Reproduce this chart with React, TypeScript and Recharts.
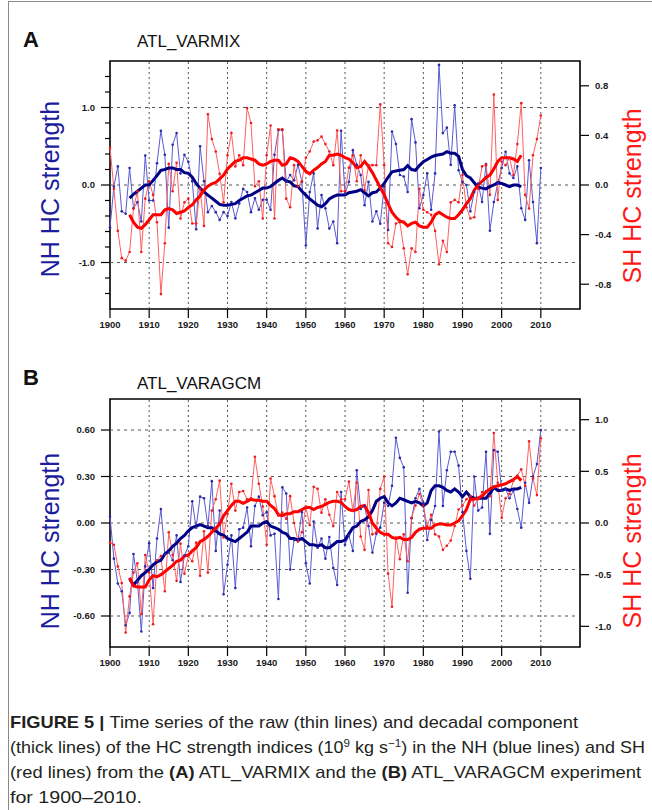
import React from "react"
import { LineChart, Line, XAxis, YAxis, ReferenceLine, ReferenceArea } from "recharts"

// years of the raw indices, decadal component runs 1905-2005
const years = Array.from({ length: 111 }, (_, i) => 1900 + i)
const decadalStart = 1905
const decadeTicks = [1900, 1910, 1920, 1930, 1940, 1950, 1960, 1970, 1980, 1990, 2000, 2010]
const gridYears = [1910, 1920, 1930, 1940, 1950, 1960, 1970, 1980, 1990, 2000, 2010]

// (A) ATL_VARMIX
const varmixNhRaw = [
  -0.55, -0.02, 0.24, -0.34, -0.37, 0.22, -0.3, -0.22, -0.47, 0.38,
  -0.2, -0.2, 0.28, 0.7, 0.39, -0.55, 0.52, 0.67, 0.15, 0.39,
  0.3, 0.05, -0.57, 0.5, 0.05, -0.35, -0.27, -0.35, -0.45, -0.35,
  -0.4, -0.22, -0.43, -0.24, -0.05, -0.09, -0.35, -0.17, -0.32, -0.19,
  -0.19, -0.32, 0.39, 0.71, 0.71, 0.04, 0.13, 0.06, 0.26, 0.04,
  -0.78, -0.09, 0.15, -0.56, -0.13, -0.3, -0.56, -0.47, -0.75, 0.7,
  -0.11, 0.04, 0.45, 0.26, 0.13, -0.26, 0.04, -0.47, -0.34, -0.5,
  -0.02, -0.58, 0.69, 0.53, 0.13, 0.11, -0.09, 0.85, 0.55, -0.3,
  -0.13, 0.15, -0.32, 0.15, 1.55, 0.67, 0.74, 0.26, 1.03, 0.19,
  0.04, 0.0, -0.34, -0.09, 0.02, -0.22, 0.27, -0.59, -0.22, 0.02,
  0.22, 0.43, 0.15, 0.09, 0.24, -0.3, -0.45, 0.32, -0.22, -0.75, 0.22,
]
const varmixShRaw = [
  0.3, -0.03, -0.37, -0.59, -0.61, -0.54, -0.19, -0.05, -0.54, -0.11,
  0.03, -0.08, -0.3, -0.88, -0.47, 0.17, -0.05, 0.18, -0.27, -0.14,
  -0.11, -0.31, -0.31, -0.03, -0.33, 0.57, 0.37, 0.27, 0.09, -0.14,
  0.24, 0.42, 0.15, 0.24, 0.16, 0.62, 0.5, -0.01, 0.03, -0.27,
  0.24, 0.48, -0.27, 0.45, 0.45, -0.11, -0.18, 0.16, -0.01, 0.03,
  0.22, 0.27, 0.35, 0.36, 0.39, 0.33, 0.27, 0.16, 0.44, -0.05,
  -0.05, 0.14, 0.24, 0.03, 0.24, -0.04, 0.16, 0.16, 0.16, 0.65,
  0.16, -0.47, -0.5, -0.31, -0.3, -0.51, -0.72, -0.51, -0.54, -0.03,
  -0.2, -0.22, -0.24, -0.37, -0.64, -0.45, -0.54, -0.14, -0.12, -0.14,
  0.08, -0.18, -0.27, -0.26, -0.03, 0.15, 0.16, -0.08, 0.73, -0.12,
  0.19, 0.16, 0.22, 0.08, 0.33, 0.66, -0.08, -0.19, 0.24, 0.37, 0.56,
]
const varmixNhDecadal = [
  -0.17, -0.12, -0.08, -0.04, 0.0,
  0.0, 0.06, 0.12, 0.19, 0.2, 0.22, 0.22, 0.2, 0.2, 0.16,
  0.15, 0.1, 0.02, -0.04, -0.09, -0.13, -0.17, -0.21, -0.25, -0.26,
  -0.26, -0.25, -0.24, -0.2, -0.17, -0.14, -0.13, -0.1, -0.07, -0.04,
  -0.04, -0.02, 0.02, 0.06, 0.09, 0.05, 0.04, -0.01, -0.02, -0.08,
  -0.13, -0.18, -0.22, -0.26, -0.28, -0.24, -0.18, -0.15, -0.13, -0.13,
  -0.13, -0.1, -0.09, -0.08, -0.06, -0.1, -0.14, -0.1, -0.09, -0.04,
  0.02, 0.1, 0.17, 0.18, 0.19, 0.2, 0.25, 0.2, 0.19, 0.25,
  0.3, 0.33, 0.36, 0.38, 0.39, 0.4, 0.43, 0.41, 0.41, 0.37,
  0.2, 0.12, 0.09, 0.03, -0.03, -0.04, -0.05, -0.02, 0.0, 0.03,
  0.02, 0.0, -0.02, 0.0, 0.0, -0.02,
]
const varmixShDecadal = [
  -0.24, -0.3, -0.34, -0.35, -0.32,
  -0.28, -0.24, -0.24, -0.24, -0.2, -0.19, -0.2, -0.23, -0.22, -0.21,
  -0.18, -0.16, -0.12, -0.09, -0.04, -0.01, 0.01, 0.02, 0.05, 0.08,
  0.13, 0.16, 0.19, 0.2, 0.22, 0.22, 0.21, 0.2, 0.17, 0.16,
  0.17, 0.19, 0.2, 0.2, 0.16, 0.17, 0.22, 0.21, 0.19, 0.15,
  0.11, 0.09, 0.12, 0.14, 0.17, 0.19, 0.24, 0.24, 0.25, 0.24,
  0.22, 0.21, 0.18, 0.14, 0.15, 0.19, 0.15, 0.1, 0.04, -0.02,
  -0.08, -0.15, -0.22, -0.26, -0.29, -0.3, -0.33, -0.31, -0.3, -0.33,
  -0.34, -0.34, -0.3, -0.24, -0.22, -0.24, -0.26, -0.27, -0.27, -0.24,
  -0.2, -0.15, -0.11, -0.04, 0.0, 0.03, 0.06, 0.08, 0.13, 0.19,
  0.22, 0.22, 0.22, 0.21, 0.19, 0.24,
]

// (B) ATL_VARAGCM
const varagcmNhRaw = [
  0.04, -0.23, -0.39, -0.44, -0.66, -0.58, -0.2, -0.38, -0.7, -0.28,
  -0.13, -0.42, -0.1, 0.09, -0.2, -0.19, -0.24, -0.08, -0.38, -0.21,
  -0.15, 0.14, -0.03, 0.17, 0.16, -0.02, 0.27, -0.18, 0.08, -0.46,
  -0.27, -0.08, -0.42, -0.04, -0.03, 0.1, -0.15, 0.11, 0.17, 0.05,
  0.07, -0.08, -0.07, -0.49, 0.23, 0.19, -0.3, -0.11, -0.11, 0.07,
  -0.26, -0.39, 0.01, -0.16, -0.1, -0.23, -0.09, -0.29, -0.4, 0.2,
  -0.14, -0.08, -0.18, 0.34, 0.09, 0.11, -0.02, -0.19, -0.07, -0.03,
  0.13, 0.11, 0.24, 0.55, 0.42, 0.36, -0.45, 0.03, 0.16, 0.22,
  0.13, -0.11, 0.02, 0.11, 0.59, 0.11, 0.34, 0.46, 0.46, 0.37,
  0.07, -0.18, -0.36, 0.3, 0.08, 0.1, 0.46, -0.07, 0.47, 0.46,
  0.21, 0.22, 0.16, 0.21, 0.09, -0.03, 0.26, 0.13, 0.3, 0.38, 0.6,
]
const varagcmShRaw = [
  -0.19, -0.21, -0.42, -0.58, -1.06, -0.71, -0.48, -0.39, -0.88, -0.31,
  -0.48, -0.98, -0.36, -0.32, -0.66, -0.09, -0.31, -0.56, -0.2, -0.49,
  -0.32, -0.37, -0.19, -0.51, -0.08, -0.48, 0.12, 0.23, 0.41, -0.14,
  0.09, 0.38, 0.12, 0.3, 0.31, 0.23, 0.24, 0.64, 0.38, 0.16,
  -0.21, 0.43, 0.26, 0.07, 0.1, 0.04, 0.26, 0.0, -0.18, -0.09,
  0.16, -0.02, 0.35, 0.33, 0.1, 0.23, 0.08, -0.03, 0.3, 0.23,
  0.23, 0.4, 0.12, 0.39, -0.13, -0.26, 0.32, -0.11, -0.09, 0.33,
  0.45, -0.49, -0.81, -0.14, -0.35, -0.11, -0.37, 0.05, 0.17, 0.28,
  0.17, -0.03, 0.08, -0.11, -0.13, -0.26, -0.22, -0.17, -0.03, 0.13,
  0.17, 0.23, 0.26, 0.17, 0.23, 0.3, 0.31, 0.26, 0.87, 0.39,
  0.05, 0.24, 0.28, 0.41, 0.46, 0.52, 0.36, 0.79, 0.43, 0.27, 0.82,
]
const varagcmNhDecadal = [
  -0.36, -0.4, -0.37, -0.34, -0.32,
  -0.3, -0.27, -0.25, -0.24, -0.2, -0.18, -0.15, -0.13, -0.1, -0.08,
  -0.05, -0.03, -0.02, -0.01, -0.02, -0.03, -0.03, -0.05, -0.07, -0.08,
  -0.1, -0.11, -0.12, -0.1, -0.08, -0.06, -0.02, -0.02, -0.02, 0.0,
  0.01, -0.02, -0.03, -0.04, -0.06, -0.07, -0.1, -0.1, -0.11, -0.1,
  -0.12, -0.14, -0.14, -0.15, -0.14, -0.16, -0.16, -0.14, -0.12, -0.12,
  -0.11, -0.07, -0.03, -0.02, 0.01, 0.02, 0.04, 0.08, 0.14, 0.16,
  0.17, 0.13, 0.11, 0.13, 0.16, 0.15, 0.14, 0.13, 0.14, 0.13,
  0.11, 0.13, 0.21, 0.24, 0.24, 0.23, 0.21, 0.2, 0.22, 0.2,
  0.17, 0.2, 0.17, 0.16, 0.16, 0.16, 0.16, 0.19, 0.23, 0.21,
  0.21, 0.22, 0.21, 0.22, 0.22, 0.23,
]
const varagcmShDecadal = [
  -0.53, -0.61, -0.62, -0.62, -0.62,
  -0.55, -0.51, -0.52, -0.5, -0.47, -0.44, -0.41, -0.37, -0.36, -0.32,
  -0.31, -0.27, -0.24, -0.18, -0.16, -0.13, -0.09, -0.05, -0.01, 0.07,
  0.12, 0.17, 0.21, 0.21, 0.19, 0.21, 0.23, 0.22, 0.22, 0.21,
  0.21, 0.17, 0.14, 0.08, 0.07, 0.09, 0.09, 0.11, 0.11, 0.13,
  0.15, 0.15, 0.13, 0.15, 0.16, 0.18, 0.2, 0.21, 0.21, 0.2,
  0.16, 0.13, 0.12, 0.13, 0.16, 0.17, 0.1, 0.0, -0.05, -0.09,
  -0.11, -0.11, -0.14, -0.15, -0.14, -0.16, -0.16, -0.14, -0.09, -0.06,
  -0.05, -0.05, -0.05, -0.02, -0.01, -0.01, -0.02, -0.02, 0.0, 0.02,
  0.07, 0.13, 0.23, 0.23, 0.24, 0.26, 0.3, 0.33, 0.35, 0.36,
  0.37, 0.38, 0.4, 0.42, 0.45, 0.41,
]

// axis ticks
const varmixLeftTicks = [-1.4, -1.2, -1.0, -0.8, -0.6, -0.4, -0.2, 0, 0.2, 0.4, 0.6, 0.8, 1.0, 1.2, 1.4]
const varmixLeftGrid = [-1.0, 0, 1.0]
const varmixRightTicks = [-0.8, -0.4, 0, 0.4, 0.8]
const varagcmLeftTicks = [-0.6, -0.3, 0, 0.3, 0.6]
const varagcmRightTicks = [-1.0, -0.5, 0, 0.5, 1.0]

const PLOT_LEFT = 110
const FONT = "'Liberation Sans', Arial, Helvetica, sans-serif"
const tickText = { fontSize: 9.5, fontWeight: 700, fill: "#1a1a1a", fontFamily: FONT }

function buildRows(nhRaw: number[], shRaw: number[], nhDec: number[], shDec: number[]) {
  return years.map((year, i) => {
    const d = year - decadalStart
    return {
      year,
      nhRaw: nhRaw[i],
      shRaw: shRaw[i],
      nhDec: d >= 0 && d < nhDec.length ? nhDec[d] : null,
      shDec: d >= 0 && d < shDec.length ? shDec[d] : null,
    }
  })
}

// left axis of panel A: labelled majors plus short minor ticks every 0.2
function MinorTick(props: any) {
  const { y, payload } = props
  const v = payload.value
  const major = Math.abs(v - Math.round(v)) < 1e-6
  return (
    <g>
      <line x1={PLOT_LEFT - (major ? 9 : 5)} x2={PLOT_LEFT} y1={y} y2={y} stroke="#000" strokeWidth={1.2} />
      {major && (
        <text x={PLOT_LEFT - 15} y={y} dy={3.4} textAnchor="end" {...tickText}>
          {v.toFixed(1)}
        </text>
      )}
    </g>
  )
}

type PanelProps = {
  top: number
  rows: ReturnType<typeof buildRows>
  leftDomain: [number, number]
  leftTicks: number[]
  leftGrid: number[]
  leftDigits: number
  minorLeft?: boolean
  rightDomain: [number, number]
  rightTicks: number[]
}

function Panel(p: PanelProps) {
  return (
    <div style={{ position: "absolute", left: 0, top: p.top, width: 652, height: 340 }}>
      <LineChart width={652} height={340} data={p.rows} margin={{ top: 61, right: 32, bottom: 6, left: 60 }}>
        <XAxis
          dataKey="year"
          type="number"
          domain={[1900, 2020]}
          ticks={decadeTicks}
          interval={0}
          height={25}
          tickSize={9}
          tickMargin={3}
          axisLine={false}
          tickLine={{ stroke: "#000", strokeWidth: 1.2 }}
          tick={tickText}
        />
        <YAxis
          yAxisId="left"
          type="number"
          domain={p.leftDomain}
          ticks={p.leftTicks}
          interval={0}
          width={50}
          tickSize={9}
          tickMargin={6}
          axisLine={false}
          tickLine={p.minorLeft ? false : { stroke: "#000", strokeWidth: 1.2 }}
          tick={p.minorLeft ? <MinorTick /> : tickText}
          tickFormatter={(v: number) => v.toFixed(p.leftDigits)}
        />
        <YAxis
          yAxisId="right"
          orientation="right"
          type="number"
          domain={p.rightDomain}
          ticks={p.rightTicks}
          interval={0}
          width={40}
          tickSize={9}
          tickMargin={6}
          axisLine={false}
          tickLine={{ stroke: "#000", strokeWidth: 1.2 }}
          tick={tickText}
          tickFormatter={(v: number) => v.toFixed(1)}
        />
        {gridYears.map((x) => (
          <ReferenceLine key={"v" + x} yAxisId="left" x={x} stroke="#555" strokeDasharray="2 3" />
        ))}
        {p.leftGrid.map((y) => (
          <ReferenceLine key={"h" + y} yAxisId="left" y={y} stroke="#555" strokeDasharray="3 4" />
        ))}
        <Line yAxisId="left" dataKey="nhRaw" stroke="#5a5ad2" strokeWidth={1} isAnimationActive={false}
          dot={{ r: 1.3, fill: "#2a2aa8", stroke: "none" }} />
        <Line yAxisId="right" dataKey="shRaw" stroke="#ff6060" strokeWidth={1} isAnimationActive={false}
          dot={{ r: 1.3, fill: "#ee1c1c", stroke: "none" }} />
        <Line yAxisId="left" dataKey="nhDec" stroke="#000085" strokeWidth={3} isAnimationActive={false} dot={false} />
        <Line yAxisId="right" dataKey="shDec" stroke="#ff0000" strokeWidth={3} isAnimationActive={false} dot={false} />
        <ReferenceArea yAxisId="left" x1={1900} x2={2020} y1={p.leftDomain[0]} y2={p.leftDomain[1]}
          fill="none" stroke="#000" strokeWidth={1.6} ifOverflow="visible" />
      </LineChart>
    </div>
  )
}

export default function App() {
  const rowsA = buildRows(varmixNhRaw, varmixShRaw, varmixNhDecadal, varmixShDecadal)
  const rowsB = buildRows(varagcmNhRaw, varagcmShRaw, varagcmNhDecadal, varagcmShDecadal)
  const sup = { fontSize: 11 }
  return (
    <div style={{ position: "absolute", left: 0, top: 0, width: 652, height: 810, background: "#fff", fontFamily: FONT, overflow: "hidden" }}>
      <div style={{ position: "absolute", left: 8, top: 1, width: 660, height: 820, borderTop: "1px solid #8a8a8a", borderLeft: "1px solid #8a8a8a" }} />
      <Panel top={0} rows={rowsA} leftDomain={[-1.6, 1.6]} leftTicks={varmixLeftTicks} leftGrid={varmixLeftGrid}
        leftDigits={1} minorLeft rightDomain={[-1.0, 1.0]} rightTicks={varmixRightTicks} />
      <Panel top={338} rows={rowsB} leftDomain={[-0.8, 0.8]} leftTicks={varagcmLeftTicks} leftGrid={varagcmLeftTicks}
        leftDigits={2} rightDomain={[-1.2, 1.2]} rightTicks={varagcmRightTicks} />
      <svg width={652} height={810} style={{ position: "absolute", left: 0, top: 0, pointerEvents: "none" }} fontFamily={FONT}>
        <text x={23} y={47} fontSize={22} fontWeight={700} fill="#111">A</text>
        <text x={137} y={47} fontSize={17} fill="#111">ATL_VARMIX</text>
        <text x={23} y={385} fontSize={22} fontWeight={700} fill="#111">B</text>
        <text x={137} y={389} fontSize={17} fill="#111">ATL_VARAGCM</text>

        <text transform="translate(59,189) rotate(-90)" textAnchor="middle" fontSize={25} fill="#1c1c9e">NH HC strength</text>
        <text transform="translate(641,196) rotate(-90)" textAnchor="middle" fontSize={25} fill="#ff1a1a">SH HC strength</text>
        <text transform="translate(59,541) rotate(-90)" textAnchor="middle" fontSize={25} fill="#1c1c9e">NH HC strength</text>
        <text transform="translate(641,541) rotate(-90)" textAnchor="middle" fontSize={25} fill="#ff1a1a">SH HC strength</text>

        <g fontSize={17} fill="#231f20">
          <text x={10} y={728} textLength={568} lengthAdjust="spacingAndGlyphs">
            <tspan fontWeight={700}>FIGURE 5 | </tspan>Time series of the raw (thin lines) and decadal component
          </text>
          <text x={10} y={753} textLength={635} lengthAdjust="spacingAndGlyphs">
            (thick lines) of the HC strength indices (10<tspan dy={-6} style={sup}>9</tspan>
            <tspan dy={6}> kg s</tspan><tspan dy={-6} style={sup}>−1</tspan><tspan dy={6}>) in the NH (blue lines) and SH</tspan>
          </text>
          <text x={10} y={778} textLength={631} lengthAdjust="spacingAndGlyphs">
            (red lines) from the <tspan fontWeight={700}>(A)</tspan> ATL_VARMIX and the <tspan fontWeight={700}>(B)</tspan> ATL_VARAGCM experiment
          </text>
          <text x={10} y={803} textLength={132} lengthAdjust="spacingAndGlyphs">for 1900–2010.</text>
        </g>
      </svg>
    </div>
  )
}
